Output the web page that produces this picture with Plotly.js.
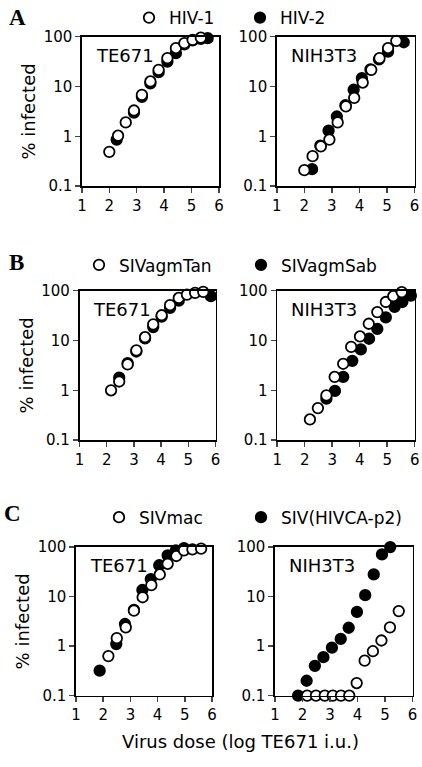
<!DOCTYPE html>
<html>
<head>
<meta charset="utf-8">
<script src="https://cdn.plot.ly/plotly-3.0.1.min.js"></script>
<style>
html,body{margin:0;padding:0;background:#fff;}
#chart{width:422px;height:767px;}
</style>
</head>
<body>
<div id="chart"></div>
<script>
// ---- Data (virus dose in log TE671 i.u., % infected) ----
// Panel A
const A_TE_HIV1_x = [2.0, 2.32, 2.60, 2.90, 3.19, 3.50, 3.80, 4.12, 4.43, 4.74, 5.04, 5.34];
const A_TE_HIV1_y = [0.49, 1.03, 1.9, 3.3, 6.8, 12.6, 21.6, 37, 59, 74, 86, 95];
const A_TE_HIV2_x = [2.27, 2.90, 3.19, 3.50, 3.80, 4.12, 4.43, 4.74, 5.04, 5.34, 5.59];
const A_TE_HIV2_y = [0.86, 3.0, 6.2, 11.5, 19.4, 31.6, 46.6, 70, 84, 90, 93];
const A_NIH_HIV1_x = [2.0, 2.30, 2.60, 2.91, 3.21, 3.51, 3.81, 4.12, 4.43, 4.73, 5.04, 5.34];
const A_NIH_HIV1_y = [0.21, 0.40, 0.63, 0.86, 1.9, 4.0, 5.9, 12, 21.6, 37, 59, 82];
const A_NIH_HIV2_x = [2.28, 2.58, 2.88, 3.18, 3.49, 3.79, 4.09, 4.40, 4.71, 5.04, 5.61];
const A_NIH_HIV2_y = [0.22, 0.65, 1.3, 2.5, 4.2, 8.6, 14.7, 22, 35, 50, 77];
// Panel B
const B_TE_Tan_x = [2.16, 2.46, 2.77, 3.09, 3.41, 3.71, 4.02, 4.33, 4.65, 4.95, 5.25, 5.55];
const B_TE_Tan_y = [1.0, 1.5, 3.3, 6.3, 11.6, 21, 32, 51, 71, 83, 90, 94];
const B_TE_Sab_x = [2.46, 2.77, 3.09, 3.41, 3.71, 4.02, 4.33, 4.65, 5.83];
const B_TE_Sab_y = [1.8, 3.5, 6.0, 11, 18.5, 30, 45, 63, 77];
const B_NIH_Tan_x = [2.19, 2.48, 2.79, 3.09, 3.40, 3.69, 4.01, 4.33, 4.64, 4.95, 5.22, 5.53];
const B_NIH_Tan_y = [0.26, 0.44, 0.79, 1.85, 3.4, 7.4, 12, 21.6, 37, 59, 77, 93];
const B_NIH_Sab_x = [2.79, 3.10, 3.40, 3.73, 4.04, 4.34, 4.64, 4.95, 5.27, 5.55, 5.86];
const B_NIH_Sab_y = [0.68, 0.97, 1.85, 3.9, 6.6, 10.8, 17, 29, 47, 59, 79];
// Panel C
const C_TE_mac_x = [2.19, 2.50, 2.83, 3.13, 3.45, 3.77, 4.08, 4.37, 4.69, 4.97, 5.28, 5.60];
const C_TE_mac_y = [0.63, 1.45, 2.4, 5.2, 9.7, 17, 28, 46, 66, 86, 90, 93];
const C_TE_ca_x = [1.87, 2.48, 2.80, 3.13, 3.44, 3.75, 4.06, 4.37, 4.67, 4.97];
const C_TE_ca_y = [0.32, 1.1, 2.8, 5.4, 13.6, 22.6, 43, 68, 86, 95];
const C_NIH_mac_x = [2.17, 2.49, 2.81, 3.10, 3.40, 3.70, 3.97, 4.26, 4.56, 4.87, 5.18, 5.50];
const C_NIH_mac_y = [0.1, 0.1, 0.1, 0.1, 0.1, 0.1, 0.18, 0.51, 0.79, 1.3, 2.4, 5.1];
const C_NIH_ca_x = [1.84, 2.15, 2.45, 2.76, 3.07, 3.39, 3.68, 3.98, 4.28, 4.59, 4.89, 5.19];
const C_NIH_ca_y = [0.1, 0.2, 0.40, 0.6, 0.93, 1.4, 2.35, 4.9, 10.7, 28, 71, 100];

// Labels
const panelLetters = ["A", "B", "C"];
const cellLines = ["TE671", "NIH3T3"];
const seriesNames = [["HIV-1", "HIV-2"], ["SIVagmTan", "SIVagmSab"], ["SIVmac", "SIV(HIVCA-p2)"]];
const xTickVals = [1, 2, 3, 4, 5, 6];
const yTickVals = [0.1, 1, 10, 100];
const yTickText = ["0.1", "1", "10", "100"];
const yTitle = "% infected";
const xTitle = "Virus dose (log TE671 i.u.)";

// ---- Layout geometry (pixels) ----
const W = 422, H = 767;
const boxes = [
  [[81.9, 218.9, 34.7, 184.7], [276.8, 414.5, 34.7, 184.7]],
  [[79.5, 215.5, 289.3, 439.3], [277.2, 414.7, 289.3, 439.3]],
  [[76, 212, 546.5, 695.5], [275, 412.5, 546.5, 695.5]]
];
const legendPos = [
  [[152, 16], [263, 16]],
  [[102, 264], [264, 264]],
  [[122, 517], [264, 517]]
];
const letterPos = [[17, 16], [16, 261], [12, 513]];

const panelData = [
  [[A_TE_HIV1_x, A_TE_HIV1_y, A_TE_HIV2_x, A_TE_HIV2_y], [A_NIH_HIV1_x, A_NIH_HIV1_y, A_NIH_HIV2_x, A_NIH_HIV2_y]],
  [[B_TE_Tan_x, B_TE_Tan_y, B_TE_Sab_x, B_TE_Sab_y], [B_NIH_Tan_x, B_NIH_Tan_y, B_NIH_Sab_x, B_NIH_Sab_y]],
  [[C_TE_mac_x, C_TE_mac_y, C_TE_ca_x, C_TE_ca_y], [C_NIH_mac_x, C_NIH_mac_y, C_NIH_ca_x, C_NIH_ca_y]]
];

const FONT = "DejaVu Sans, Verdana, sans-serif";
const traces = [];
const layout = {
  width: W, height: H,
  margin: {l: 0, r: 0, t: 0, b: 0},
  paper_bgcolor: "#ffffff", plot_bgcolor: "#ffffff",
  font: {family: FONT, color: "#000", size: 15},
  annotations: []
};

const openMarker = {symbol: "circle", size: 10.5, color: "#ffffff", line: {color: "#000", width: 1.8}};
const fillMarker = {symbol: "circle", size: 10.5, color: "#000000", line: {color: "#000", width: 1.8}};

let axIdx = 0;
const legendNames = ["legend", "legend2", "legend3", "legend4", "legend5", "legend6"];
for (let p = 0; p < 3; p++) {
  for (let c = 0; c < 2; c++) {
    axIdx++;
    const xa = axIdx === 1 ? "x" : "x" + axIdx;
    const ya = axIdx === 1 ? "y" : "y" + axIdx;
    const xKey = axIdx === 1 ? "xaxis" : "xaxis" + axIdx;
    const yKey = axIdx === 1 ? "yaxis" : "yaxis" + axIdx;
    const b = boxes[p][c];
    const d = panelData[p][c];
    // filled series first so open circles are drawn on top
    traces.push({
      type: "scatter", mode: "markers", x: d[2], y: d[3], xaxis: xa, yaxis: ya,
      name: seriesNames[p][1], marker: fillMarker, cliponaxis: false,
      showlegend: c === 0, legend: legendNames[p * 2 + 1]
    });
    traces.push({
      type: "scatter", mode: "markers", x: d[0], y: d[1], xaxis: xa, yaxis: ya,
      name: seriesNames[p][0], marker: openMarker, cliponaxis: false,
      showlegend: c === 0, legend: legendNames[p * 2]
    });
    layout[xKey] = {
      domain: [b[0] / W, b[1] / W], anchor: ya, range: [1, 6],
      tickvals: xTickVals, ticks: "outside", ticklen: 5, tickwidth: 1.5,
      showline: true, linewidth: 1.6, linecolor: "#000", mirror: true,
      showgrid: false, zeroline: false, fixedrange: true,
      tickfont: {size: 15, family: FONT}
    };
    layout[yKey] = {
      domain: [1 - b[3] / H, 1 - b[2] / H], anchor: xa, type: "log", range: [-1, 2],
      tickvals: yTickVals, ticktext: yTickText, ticks: "outside", ticklen: 5, tickwidth: 1.5,
      showline: true, linewidth: 1.6, linecolor: "#000", mirror: true,
      showgrid: false, zeroline: false, fixedrange: true,
      tickfont: {size: 15, family: FONT}
    };
    if (c === 0) {
      layout[yKey].title = {text: yTitle, font: {size: 18, family: FONT}};
    }
    layout.annotations.push({
      xref: xa + " domain", yref: ya + " domain", x: 0.085, y: 0.875,
      xanchor: "left", yanchor: "middle", showarrow: false,
      text: cellLines[c], font: {size: 18, family: FONT}
    });
  }
  for (let s = 0; s < 2; s++) {
    const lp = legendPos[p][s];
    layout[legendNames[p * 2 + s]] = {
      x: (lp[0] - 23) / W, xanchor: "left", y: 1 - lp[1] / H, yanchor: "middle",
      orientation: "h", bgcolor: "rgba(0,0,0,0)", borderwidth: 0,
      font: {size: 17, family: FONT}
    };
  }
  layout.annotations.push({
    xref: "paper", yref: "paper", x: letterPos[p][0] / W, y: 1 - letterPos[p][1] / H,
    xanchor: "center", yanchor: "middle", showarrow: false,
    text: "<b>" + panelLetters[p] + "</b>",
    font: {size: 23, family: "Liberation Serif, Times New Roman, serif"}
  });
}
layout.annotations.push({
  xref: "paper", yref: "paper", x: 241 / W, y: 1 - 741 / H,
  xanchor: "center", yanchor: "middle", showarrow: false,
  text: xTitle, font: {size: 18, family: FONT}
});

Plotly.newPlot("chart", traces, layout, {staticPlot: true, displayModeBar: false});
</script>
</body>
</html>
